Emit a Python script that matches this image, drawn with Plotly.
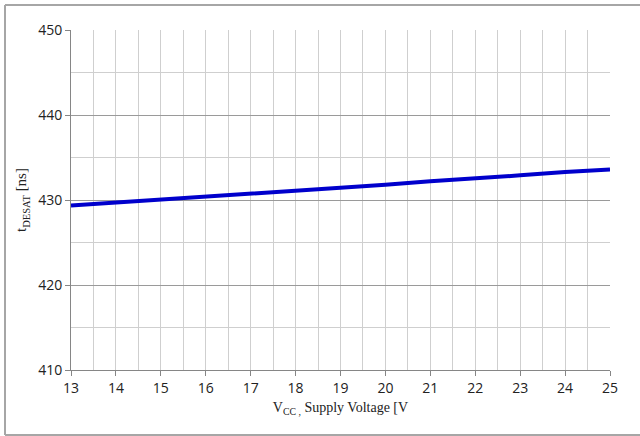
import plotly.graph_objects as go

vcc = [13, 14, 15, 16, 17, 18, 19, 20, 21, 22, 23, 24, 25]
t_desat = [429.35, 429.7, 430.05, 430.3, 430.7, 431.1, 431.4, 431.8, 432.2, 432.5, 432.9, 433.3, 433.6]
x_ticks = list(range(13, 26))
y_ticks = [410, 420, 430, 440, 450]

fig = go.Figure()
fig.add_trace(go.Scatter(x=vcc, y=t_desat, mode="lines",
                         line=dict(color="#0000CC", width=4), showlegend=False))

fig.update_layout(
    width=640, height=436,
    margin=dict(l=71, r=30, t=30, b=66),
    paper_bgcolor="white", plot_bgcolor="white",
    font=dict(family="Open Sans, Liberation Sans, sans-serif", size=14, color="#222"),
    shapes=[
        dict(type="line", xref="paper", yref="paper",
             x0=-66 / 539, x1=-66 / 539, y0=-65 / 340, y1=1 + 25 / 340,
             line=dict(color="#a6a6a6", width=2), layer="below"),
        dict(type="line", xref="paper", yref="paper",
             x0=-66 / 539, x1=1 + 30 / 539, y0=1 + 25 / 340, y1=1 + 25 / 340,
             line=dict(color="#a6a6a6", width=2), layer="below"),
        dict(type="line", xref="paper", yref="paper",
             x0=-66 / 539, x1=1 + 30 / 539, y0=-65 / 340, y1=-65 / 340,
             line=dict(color="#a6a6a6", width=2), layer="below"),
    ],
)
fig.update_xaxes(
    range=[13, 25], tickvals=x_ticks, ticks="outside", ticklen=5, tickcolor="#868686",
    showline=True, linecolor="#868686", linewidth=1, mirror=False,
    showgrid=True, gridcolor="#cfcfcf", gridwidth=1, zeroline=False,
    minor=dict(dtick=0.5, showgrid=True, gridcolor="#cfcfcf", gridwidth=1),
    title=dict(text="V<sub>CC ,</sub> Supply Voltage [V",
               font=dict(family="Liberation Serif, Times New Roman, serif", size=14, color="#222"),
               standoff=6),
)
fig.update_yaxes(
    range=[410, 450], tickvals=y_ticks, ticks="outside", ticklen=5, tickcolor="#868686",
    showline=True, linecolor="#868686", linewidth=1,
    showgrid=True, gridcolor="#9a9a9a", gridwidth=1, zeroline=False,
    minor=dict(dtick=5, showgrid=True, gridcolor="#cfcfcf", gridwidth=1),
    title=dict(text="t<sub>DESAT</sub> [ns]",
               font=dict(family="Liberation Serif, Times New Roman, serif", size=15, color="#222"),
               standoff=7),
)
fig.write_html("out.html", config={"displayModeBar": False},
               post_script="document.body.style.margin='0';")
